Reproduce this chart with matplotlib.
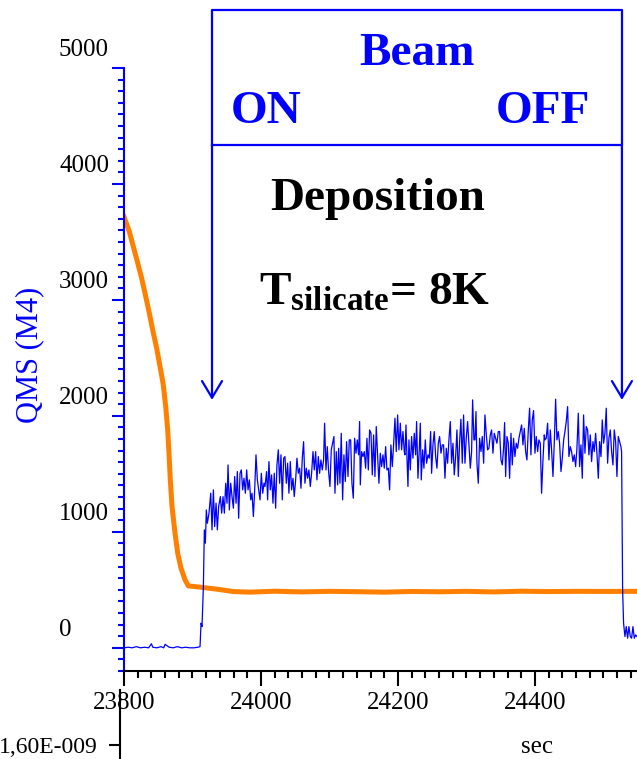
import matplotlib
matplotlib.use("Agg")
import matplotlib.pyplot as plt
from matplotlib.ticker import MultipleLocator
from matplotlib.transforms import ScaledTranslation

plt.rcParams['font.family'] = 'Liberation Serif'
plt.rcParams['mathtext.fontset'] = 'custom'
plt.rcParams['mathtext.rm'] = 'Liberation Serif'
plt.rcParams['mathtext.bf'] = 'Liberation Serif:bold'

# QMS signal (blue), time in sec
blue_time = [
    23800, 23806, 23812, 23818, 23824, 23830, 23836, 23840,
    23842, 23848, 23854, 23858, 23860, 23866, 23872, 23878,
    23884, 23890, 23896, 23902, 23908, 23911,
    23912.5, 23913.9, 23915.9, 23917.3, 23918.8, 23920.2, 23921.7, 23924.1,
    23926.6, 23928.5, 23930.5, 23932.4, 23934.4, 23936.3, 23938.2, 23940.7,
    23942.6, 23944.6, 23946.5, 23948.5, 23950.4, 23951.9, 23953.8, 23955.8,
    23957.7, 23959.7, 23961.6, 23963.6, 23965.5, 23967.4, 23969.4, 23971.3,
    23973.3, 23975.2, 23977.2, 23979.1, 23981.1, 23983.0, 23985.0, 23986.9,
    23988.9, 23990.8, 23992.7, 23994.7, 23996.6, 23998.6, 24000.5, 24002.5,
    24004.4,
    24005.8, 24008.2, 24009.7, 24011.6, 24013.6, 24015.5, 24017.5, 24019.4,
    24021.4, 24023.3, 24025.3, 24027.2, 24029.2, 24031.1, 24033.1, 24035.0,
    24037.0, 24038.9, 24040.8, 24042.8, 24044.7, 24046.7, 24048.6, 24050.6,
    24052.5, 24054.5, 24056.4, 24058.4, 24060.3, 24062.2, 24064.2, 24066.1,
    24068.1, 24070.0, 24072.0, 24073.9, 24075.9, 24077.8, 24079.8, 24081.7,
    24083.7, 24085.6, 24087.5, 24089.5, 24091.4, 24092.9, 24094.9, 24096.8,
    24098.7, 24100.7, 24102.6, 24104.6, 24106.5,
    24108.0, 24109.9, 24111.9, 24113.4, 24115.3, 24117.2, 24119.2, 24121.1,
    24123.1, 24125.0, 24127.0, 24128.9, 24130.9, 24132.8, 24134.8, 24136.7,
    24138.7, 24140.6, 24142.5, 24144.0, 24145.0, 24146.9, 24148.9, 24150.8,
    24152.8, 24154.7, 24156.7, 24158.6, 24160.6, 24162.5, 24164.4, 24166.4,
    24168.3, 24170.3, 24172.2, 24174.2, 24176.1, 24178.1, 24180.0, 24182.0,
    24183.9, 24185.9, 24187.8, 24189.7, 24191.7, 24193.6, 24195.6, 24197.5,
    24199.5, 24201.4, 24203.4, 24205.3, 24207.3, 24209.2,
    24210.2, 24211.7, 24213.1, 24214.6, 24216.0, 24218.0, 24219.9, 24221.9,
    24223.8, 24225.8, 24227.2, 24229.2, 24231.1, 24232.6, 24234.0, 24236.0,
    24237.9, 24239.9, 24241.8, 24243.8, 24245.7, 24247.7, 24249.1, 24251.1,
    24253.0, 24255.0, 24256.9, 24258.9, 24260.8, 24262.8, 24264.7, 24266.6,
    24268.6, 24270.5, 24272.5, 24274.4, 24276.4, 24278.3, 24280.3, 24282.2,
    24284.2, 24286.1, 24288.1, 24290.0, 24291.9, 24293.9, 24295.8, 24297.8,
    24299.7, 24301.7, 24303.6, 24305.6, 24307.5, 24309.0, 24310.9,
    24312.4, 24313.9, 24315.3, 24317.3, 24319.2, 24321.2, 24323.1, 24325.1,
    24327.0, 24329.0, 24330.9, 24332.8, 24334.8, 24336.7, 24338.7, 24340.6,
    24342.6, 24344.5, 24346.5, 24348.4, 24350.4, 24352.3, 24354.2, 24355.7,
    24357.2, 24359.1, 24361.1, 24363.0, 24365.0, 24366.9, 24368.8, 24370.8,
    24372.7, 24374.7, 24376.6, 24378.6, 24380.5, 24382.5, 24384.4, 24386.4,
    24388.3, 24390.3, 24392.2, 24394.1, 24396.1, 24398.0, 24400.0, 24401.9,
    24403.9, 24405.8, 24407.8, 24409.7, 24411.7, 24413.6,
    24414.6, 24416.5, 24418.5, 24420.4, 24422.4, 24424.3, 24426.3, 24428.2,
    24430.2, 24432.1, 24434.1, 24436.0, 24438.0, 24439.9, 24441.9, 24443.8,
    24445.7, 24447.7, 24449.6, 24451.6, 24453.5, 24455.5, 24457.4, 24459.4,
    24461.3, 24463.3, 24465.2, 24467.2, 24469.1, 24471.0, 24473.0, 24474.9,
    24476.9, 24478.8, 24480.8, 24482.7, 24484.7, 24486.6, 24488.6, 24490.5,
    24492.5, 24494.4, 24496.4, 24498.3, 24500.2, 24502.2, 24504.1, 24506.1,
    24508.0, 24510.0, 24511.9, 24513.9, 24515.8, 24517.8, 24519.7, 24521.7,
    24523.6, 24525.5, 24526.5,
    24528.0, 24529.4, 24531.4, 24533.3, 24535.3, 24537.2, 24539.2, 24541.1,
    24543.1, 24545.0, 24547.0, 24548.9,
]
blue_qms = [
    0, 5, 0, 10, 0, 5, 0, 35,
    5, 0, 10, 0, 30, 5, 0, 10,
    0, 5, 0, 0, 5, 10,
    212, 183, 528, 1017, 902, 1189, 1074, 1161,
    1333, 1017, 1362, 1046, 1247, 1017, 1218, 1304,
    1161, 1304, 1161, 1419, 1247, 1577, 1189, 1419,
    1304, 1204, 1477, 1247, 1520, 1117, 1505, 1534,
    1362, 1462, 1333, 1534, 1362, 1448, 1276, 1333,
    1132, 1362, 1664, 1448, 1362, 1276, 1505, 1333,
    1419,
    1391, 1520, 1276, 1606, 1362, 1491, 1247, 1505,
    1204, 1577, 1707, 1419, 1664, 1276, 1635, 1649,
    1419, 1592, 1333, 1606, 1362, 1462, 1304, 1448,
    1635, 1505, 1549, 1376, 1635, 1778, 1419, 1549,
    1462, 1534, 1391, 1505, 1692, 1534, 1692, 1448,
    1649, 1505, 1620, 1534, 1620, 1937, 1534, 1735,
    1520, 1391, 1707, 1764, 1822,
    1333, 1692, 1405, 1721, 1419, 1850, 1276, 1664,
    1434, 1778, 1477, 1793, 1793, 1419, 1290, 1807,
    1678, 1793, 1664, 1951, 1405, 1692, 1649, 1692,
    1549, 1807, 1534, 1879, 1850, 1491, 1836, 1477,
    1908, 1649, 1419, 1678, 1563, 1664, 1549, 1735,
    1534, 1549, 1362, 1750, 1563, 1750, 1980, 1692,
    2008, 1707, 1937, 1707, 1865, 1692,
    1664, 1922, 1649, 1391, 1793, 1534, 1822, 1635,
    1850, 1664, 1951, 1462, 1707, 1937, 1448, 1707,
    1549, 1793, 1592, 1664, 1635, 1865, 1505, 1750,
    1865, 1649, 1549, 1764, 1822, 1678, 1750, 1750,
    1462, 1721, 1592, 1793, 1951, 1592, 1764, 1491,
    1649, 1879, 1477, 1778, 1971, 1592, 2008, 1592,
    1807, 1951, 1750, 1549, 1692, 2138, 1793,
    1793, 2037, 1592, 1419, 1807, 1692, 1822, 1592,
    2008, 1836, 1707, 1721, 1836, 1879, 1678, 1850,
    1807, 1764, 1865, 1865, 1620, 1577, 1721, 1942,
    1477, 1822, 1764, 1462, 1850, 1577, 1807, 1649,
    1764, 1721, 1807, 1865, 1922, 1750, 1893, 1692,
    1620, 1879, 2066, 1664, 1965, 2046, 1678, 1822,
    1692, 1793, 1764, 1333, 1620, 1836,
    1793, 1807, 1937, 1620, 1879, 1707, 1477, 1764,
    2144, 1793, 1865, 1764, 1520, 1635, 1793, 1865,
    1951, 2080, 1649, 1735, 1692, 1606, 1664, 1563,
    1721, 2023, 1563, 1750, 1462, 2008, 1678, 1908,
    1879, 1664, 1836, 1606, 1778, 1692, 1850, 1678,
    1462, 1778, 1649, 1965, 1764, 1850, 2066, 1592,
    1807, 1879, 1692, 1577, 1879, 1778, 1477, 1822,
    1778, 1735, 1692,
    500, 212, 97, 183, 83, 183, 97, 83,
    183, 83, 112, 97,
]

# orange trace
orange_time = [23800, 23807.8, 23813.6, 23819.5, 23825.8, 23830.7, 23836.5, 23841.9,
               23847.7, 23852.6, 23857.4, 23860.9, 23863.8, 23865.7, 23867.6, 23870.1,
               23874.5, 23878.4, 23883.2, 23889.1, 23893.9, 23911, 23935, 23960,
               23984, 24020, 24060, 24100, 24140, 24180, 24220, 24260,
               24300, 24340, 24380, 24420, 24460, 24500, 24549]
orange_val = [3718, 3589, 3460, 3330, 3187, 3058, 2899, 2741,
              2583, 2425, 2267, 2080, 1879, 1678, 1448, 1218,
              989, 816, 687, 586, 534, 523, 506, 485,
              480, 488, 482, 487, 484, 480, 486, 483,
              487, 482, 488, 485, 487, 486, 487]

y_major = [0, 1000, 2000, 3000, 4000, 5000]
x_major = [23800, 24000, 24200, 24400]
beam_on, beam_off = 23928.5, 24527

fig = plt.figure(figsize=(6.37, 7.59), dpi=100)
ax = fig.add_axes([124 / 637, 88 / 759, 513 / 637, 603 / 759])

ax.plot(orange_time, orange_val, color='#FF8000', lw=3.6, zorder=2,
        solid_joinstyle='round')
ax.plot(blue_time, blue_qms, color='#0000FF', lw=0.9, zorder=3)

ax.set_xlim(23800, 24549)
ax.set_ylim(-200, 5000)

for s in ['top', 'right']:
    ax.spines[s].set_visible(False)
ax.spines['left'].set_color('blue')
ax.spines['left'].set_linewidth(1.5)
ax.spines['bottom'].set_linewidth(1.5)

ax.set_xticks(x_major)
ax.set_xticklabels([str(v) for v in x_major])
ax.xaxis.set_minor_locator(MultipleLocator(20))
ax.set_yticks(y_major)
ax.yaxis.set_minor_locator(MultipleLocator(100))
ax.tick_params(axis='x', which='major', length=10.8, width=1.5, labelsize=18, pad=4)
ax.tick_params(axis='x', which='minor', length=5, width=1.5)
ax.tick_params(axis='y', which='major', length=8.6, width=1.5, color='blue', labelleft=False)
ax.tick_params(axis='y', which='minor', length=4.3, width=1.5, color='blue')

# y labels sit above their ticks in the original
shift = ScaledTranslation(-65 / 100, 17.5 / 100, fig.dpi_scale_trans)
for v in y_major:
    ax.text(0, v, str(v), transform=ax.get_yaxis_transform() + shift,
            ha='left', va='center', fontsize=18)

ax.set_ylabel('QMS (M4)', color='blue', fontsize=22)
ax.yaxis.set_label_coords(-0.156, 0.524)
ax.set_xlabel('sec', fontsize=18)
ax.xaxis.set_label_coords(0.805, -0.107)

# beam box and arrows
ax.plot([beam_on, beam_on, beam_off, beam_off, beam_on],
        [4336, 5500, 5500, 4336, 4336], color='blue', lw=1.6, clip_on=False)
for xb in [beam_on, beam_off]:
    ax.annotate('', xy=(xb, 2138), xytext=(xb, 4336),
                arrowprops=dict(arrowstyle='->,head_length=0.6,head_width=0.36',
                                color='blue', lw=1.6, mutation_scale=20,
                                shrinkA=0, shrinkB=0),
                annotation_clip=False)

bold = dict(fontsize=34, fontweight='bold', ha='center', va='baseline')
ax.text(24227.8, 5026, 'Beam', color='blue', clip_on=False, **bold)
ax.text(24007, 4526, 'ON', color='blue', **bold)
ax.text(24411.7, 4526, 'OFF', color='blue', **bold)
ax.text(24171, 3776, 'Deposition', color='black', **bold)
ax.text(24166, 2957, r'$\mathbf{T_{silicate}}$= 8K', color='black', **bold)

# second (black) axis at bottom left
ax2 = fig.add_axes([120 / 637, 0, 0.3, 69 / 759])
ax2.patch.set_visible(False)
for s in ['top', 'right', 'bottom']:
    ax2.spines[s].set_visible(False)
ax2.spines['left'].set_linewidth(1.5)
ax2.set_xticks([])
ax2.set_ylim(1.5e-9, 1.993e-9)
ax2.set_yticks([1.6e-9])
ax2.set_yticklabels(['1,60E-009'])
ax2.tick_params(axis='y', length=8, width=1.5, labelsize=17, pad=8)

fig.savefig('out.png', dpi=100)
